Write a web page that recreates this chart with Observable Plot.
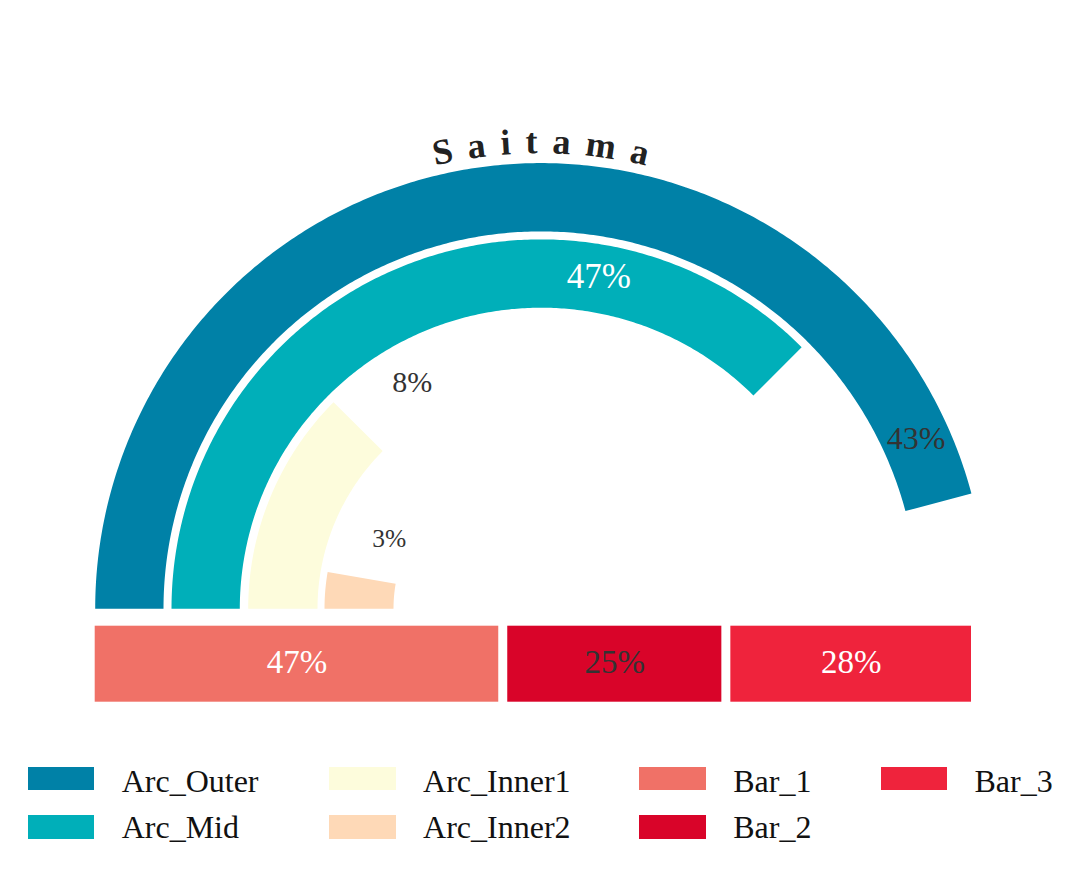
<!DOCTYPE html>
<html>
<head>
<meta charset="utf-8">
<script src="https://cdn.jsdelivr.net/npm/d3@7"></script>
<script src="https://cdn.jsdelivr.net/npm/@observablehq/plot@0.6"></script>
<style>
  html, body { margin: 0; padding: 0; background: #fff; }
  #wrap { position: relative; width: 1080px; height: 871px; font-family: "Liberation Serif", "Times New Roman", serif; }
  #legend { position: absolute; left: 0; top: 740px; width: 1080px; height: 131px; }
  .sw { position: absolute; width: 66.7px; height: 23.8px; }
  .lt { position: absolute; font-size: 32px; line-height: 32px; color: #111; white-space: nowrap; }
</style>
</head>
<body>
<div id="wrap">
  <div id="chart"></div>
  <div id="legend"></div>
</div>
<script>
// ---------------- data ----------------
const title = "Saitama";
const arcNames = ["Arc_Outer", "Arc_Mid", "Arc_Inner1", "Arc_Inner2"];
const arcSweepDeg = [165.0, 134.9, 44.9, 9.8];   // angular extent of each arc (degrees from the left)
const arcLabels = ["43%", "47%", "8%", "3%"];
const barNames = ["Bar_1", "Bar_2", "Bar_3"];
const barValues = [46.6, 25.2, 28.2];

// ---------------- style / layout ----------------
const arcColors = ["#0081A7", "#00AFB9", "#FDFCDC", "#FED9B7"];
const barColors = ["#F07167", "#D90429", "#EF233C"];
const arcRadii = [[377.4, 445.7], [301.1, 369.4], [223.4, 292.7], [147.4, 216.4]];
const arcLabelPolar = [[412, 24.4], [336.6, 80.1], [260.3, 119.6], [166.9, 155.4]]; // [radius, angle]
const arcLabelColors = ["#333", "#fff", "#333", "#333"];
const arcLabelSizes = [32, 35, 30, 25.5];
const barLabelColors = ["#fff", "#333", "#fff"];
const W = 1080, H = 740, CX = 540.4, CY = 608.3;
const barLeft = -445.7, barRight = 430.6;
const barTop = -17.4, barBottom = -93.4, barGap = 4.5;

// ---------------- build mark data ----------------
const rad = d => d * Math.PI / 180;
function arcPolygon(i) {
  const [r0, r1] = arcRadii[i];
  const a0 = 180, a1 = 180 - arcSweepDeg[i];
  const n = Math.max(2, Math.ceil((a0 - a1) / 0.5));
  const pts = [];
  for (let k = 0; k <= n; k++) {
    const a = rad(a0 - (a0 - a1) * k / n);
    pts.push({x: r1 * Math.cos(a), y: r1 * Math.sin(a)});
  }
  for (let k = n; k >= 0; k--) {
    const a = rad(a0 - (a0 - a1) * k / n);
    pts.push({x: r0 * Math.cos(a), y: r0 * Math.sin(a)});
  }
  return pts;
}

const arcLabelData = arcNames.map((name, i) => {
  const [r, a] = arcLabelPolar[i];
  return {name, text: arcLabels[i], x: r * Math.cos(rad(a)), y: r * Math.sin(rad(a)),
          color: arcLabelColors[i], size: arcLabelSizes[i]};
});

const total = d3.sum(barValues);
const x0 = barLeft - barGap, span = (barRight - barLeft) + 2 * barGap;
let cum = 0;
const barData = barNames.map((name, i) => {
  const x1 = x0 + span * cum / total;
  cum += barValues[i];
  const x2 = x0 + span * cum / total;
  return {name, value: barValues[i], x1, x2, fill: barColors[i],
          label: Math.round(barValues[i]) + "%", labelColor: barLabelColors[i]};
});

// ---------------- plot ----------------
const plot = Plot.plot({
  width: W,
  height: H,
  margin: 0,
  x: {domain: [-CX, W - CX], range: [0, W], axis: null},
  y: {domain: [CY - H, CY], range: [H, 0], axis: null},
  color: {type: "identity"},
  style: {fontFamily: "'Liberation Serif', 'Times New Roman', serif", background: "#fff", overflow: "visible"},
  marks: [
    ...arcNames.map((name, i) => Plot.line(arcPolygon(i), {
      x: "x", y: "y", fill: arcColors[i], stroke: "none", curve: "linear-closed"
    })),
    Plot.rect(barData, {
      x1: "x1", x2: "x2", y1: () => barTop, y2: () => barBottom,
      fill: "fill", insetLeft: barGap, insetRight: barGap
    }),
    Plot.text(arcLabelData, {
      x: "x", y: "y", text: "text", fill: "color", fontSize: "size",
      textAnchor: "middle", lineAnchor: "middle"
    }),
    Plot.text(barData, {
      x: d => (d.x1 + d.x2) / 2, y: () => (barTop + barBottom) / 2 + 2,
      text: "label", fill: "labelColor", fontSize: 33,
      textAnchor: "middle", lineAnchor: "middle"
    })
  ]
});
document.getElementById("chart").appendChild(plot);

// curved title along the outer arc
(function () {
  const sx = plot.scale("x"), sy = plot.scale("y");
  const cx = sx.apply(0), cy = sy.apply(0);
  const r = 455;
  const ls = 14.5;
  const svg = d3.select(plot);
  svg.append("defs").append("path")
    .attr("id", "titlePath")
    .attr("d", `M${cx - r},${cy} A${r},${r} 0 0 1 ${cx + r},${cy}`);
  const L = Math.PI * r;
  svg.append("text")
    .attr("font-family", "'Liberation Serif', 'Times New Roman', serif")
    .attr("font-weight", "bold")
    .attr("font-size", 36)
    .attr("letter-spacing", ls)
    .attr("fill", "#222")
    .attr("text-anchor", "middle")
    .append("textPath")
    .attr("href", "#titlePath")
    .attr("startOffset", L / 2 + ls / 2)
    .text(title);
})();

// ---------------- legend ----------------
const legendItems = [
  ...arcNames.map((n, i) => ({name: n, color: arcColors[i]})),
  ...barNames.map((n, i) => ({name: n, color: barColors[i]}))
];
const colLeft = [27.7, 329.1, 639.2, 880.5];
const rowSwatchTop = [26.6, 75.0];
const rowTextTop = [24.7, 70.7];
const legend = document.getElementById("legend");
legendItems.forEach((it, k) => {
  const col = Math.floor(k / 2), row = k % 2;
  const sw = document.createElement("div");
  sw.className = "sw";
  sw.style.left = colLeft[col] + "px";
  sw.style.top = rowSwatchTop[row] + "px";
  sw.style.background = it.color;
  legend.appendChild(sw);
  const t = document.createElement("div");
  t.className = "lt";
  t.style.left = (colLeft[col] + 94) + "px";
  t.style.top = rowTextTop[row] + "px";
  t.textContent = it.name;
  legend.appendChild(t);
});
</script>
</body>
</html>
